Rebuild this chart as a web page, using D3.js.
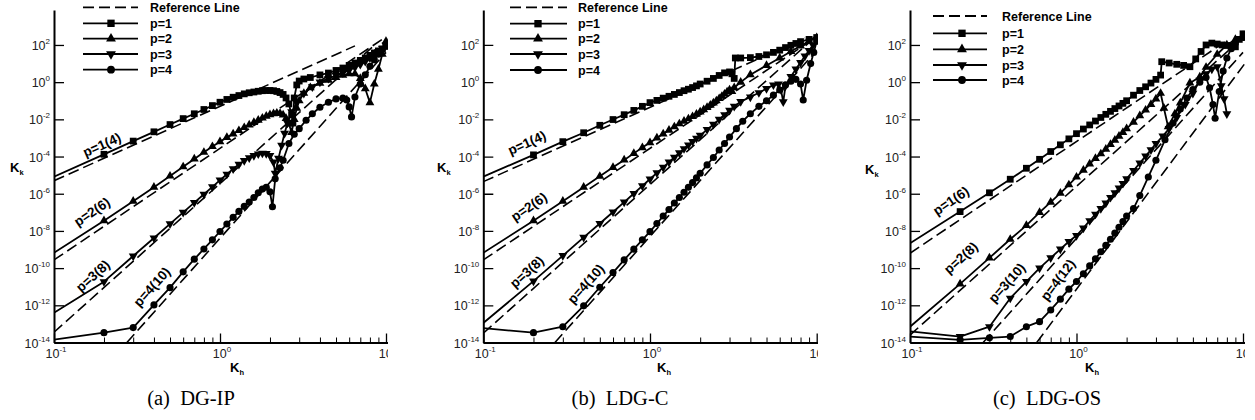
<!DOCTYPE html>
<html>
<head>
<meta charset="utf-8">
<script src="https://cdn.jsdelivr.net/npm/d3@7"></script>
<style>
  body { margin: 0; background: #fff; }
  svg { display: block; font-family: "Liberation Sans", Arial, sans-serif; }
</style>
</head>
<body>
<svg id="chart" width="1255" height="420"></svg>
<script>
// Values are [K_h, log10(K_k)]

// (a) DG-IP
const ipRef1 = [[0.1, -5.3], [6.5, 1.95]]
const ipRef2 = [[0.1, -9.56], [10, 2.44]]
const ipRef3 = [[0.1, -13.45], [8.5, 1.98]]
const ipRef4 = [[0.275, -14], [10, 1.6]]
const ipP1 = [[0.1,-5.08],[0.2,-3.88],[0.3,-3.17],[0.4,-2.67],[0.5,-2.28],[0.6,-1.96],[0.7,-1.7],[0.8,-1.47],[0.9,-1.26],[1.0,-1.08],[1.1,-0.93],[1.2,-0.81],[1.3,-0.72],[1.4,-0.63],[1.5,-0.57],[1.6,-0.53],[1.7,-0.49],[1.8,-0.46],[1.9,-0.45],[2.0,-0.45],[2.1,-0.46],[2.2,-0.5],[2.3,-0.56],[2.4,-0.66],[2.5,-0.85],[2.6,-1.17],[2.7,-1.76],[2.75,-2.2],[2.8,-0.85],[2.9,-0.15],[3.0,0.06],[3.2,0.17],[3.5,0.25],[4.0,0.39],[4.5,0.49],[5.0,0.63],[5.5,0.76],[6.0,0.9],[6.5,1.03],[7.0,1.17],[7.5,1.3],[8.0,1.44],[8.5,1.57],[9.0,1.68],[9.5,1.78],[10,1.92]]
const ipP2 = [[0.1,-9.18],[0.2,-7.45],[0.3,-6.4],[0.4,-5.65],[0.5,-5.05],[0.6,-4.55],[0.7,-4.13],[0.8,-3.77],[0.9,-3.46],[1.0,-3.2],[1.1,-2.97],[1.2,-2.78],[1.3,-2.6],[1.4,-2.44],[1.5,-2.3],[1.6,-2.16],[1.7,-2.04],[1.8,-1.93],[1.9,-1.83],[2.0,-1.75],[2.1,-1.69],[2.2,-1.66],[2.3,-1.68],[2.4,-1.76],[2.5,-1.95],[2.6,-2.25],[2.7,-2.7],[2.8,-2.0],[2.9,-1.4],[3.0,-1.0],[3.2,-0.6],[3.5,-0.3],[4.0,-0.05],[4.5,0.1],[5.0,0.25],[5.5,0.38],[6.0,0.45],[6.5,0.45],[7.0,0.2],[7.5,-0.35],[8.0,-1.1],[8.5,-0.1],[9.0,0.7],[9.5,1.5],[10,2.2]]
const ipP3 = [[0.1,-12.4],[0.2,-10.73],[0.3,-9.35],[0.4,-8.38],[0.5,-7.62],[0.6,-7.0],[0.7,-6.48],[0.8,-6.03],[0.9,-5.63],[1.0,-5.27],[1.1,-4.95],[1.2,-4.66],[1.3,-4.42],[1.4,-4.22],[1.5,-4.07],[1.6,-3.95],[1.7,-3.86],[1.8,-3.82],[1.9,-3.84],[2.0,-3.95],[2.1,-4.3],[2.15,-4.9],[2.25,-4.1],[2.35,-3.4],[2.45,-2.75],[2.55,-2.2],[2.7,-1.6],[2.9,-1.1],[3.2,-0.6],[3.6,-0.25],[4.0,0.0],[4.5,0.2],[5.0,0.35],[5.5,0.5],[6.0,0.65],[6.5,0.8],[7.0,0.95],[7.5,1.12],[8.0,1.3],[8.5,1.48],[9.0,1.65],[9.5,1.82],[10,2.0]]
const ipP4 = [[0.1,-13.85],[0.2,-13.47],[0.3,-13.2],[0.4,-11.98],[0.5,-11.05],[0.6,-10.2],[0.7,-9.52],[0.8,-8.97],[0.9,-8.48],[1.0,-8.03],[1.1,-7.63],[1.2,-7.27],[1.3,-6.95],[1.4,-6.68],[1.5,-6.45],[1.6,-6.2],[1.7,-5.95],[1.8,-5.75],[1.9,-5.65],[2.0,-5.9],[2.07,-6.7],[2.15,-5.2],[2.3,-4.6],[2.4,-4.2],[2.6,-3.3],[2.8,-2.8],[3.0,-2.5],[3.3,-2.05],[3.6,-1.7],[4.0,-1.35],[4.5,-1.08],[5.0,-0.9],[5.5,-0.86],[5.8,-0.96],[6.0,-1.33],[6.2,-1.87],[6.5,-0.8],[7.0,-0.1],[7.5,0.4],[8.0,0.85],[8.5,1.2],[9.0,1.5],[9.5,1.75],[10,2.0]]
const ipLabels = ["p=1(4)", "p=2(6)", "p=3(8)", "p=4(10)"]

// (b) LDG-C
const cRef1 = [[0.1, -5.35], [8.5, 2.37]]
const cRef2 = [[0.1, -9.56], [10, 2.44]]
const cRef3 = [[0.1, -13.5], [9, 2.13]]
const cRef4 = [[0.269, -14], [9.5, 1.48]]
const cP1 = [[0.1,-5.08],[0.2,-3.91],[0.3,-3.2],[0.4,-2.72],[0.5,-2.32],[0.6,-2.01],[0.7,-1.75],[0.8,-1.52],[0.9,-1.3],[1.0,-1.1],[1.1,-0.98],[1.2,-0.86],[1.3,-0.76],[1.4,-0.66],[1.5,-0.56],[1.6,-0.46],[1.7,-0.38],[1.8,-0.29],[1.9,-0.2],[2.0,-0.1],[2.2,0.05],[2.4,0.2],[2.6,0.36],[2.8,0.5],[3.0,0.55],[3.1,0.45],[3.2,0.2],[3.25,1.3],[3.5,1.3],[4.0,1.32],[4.5,1.38],[5.0,1.47],[5.5,1.6],[6.0,1.72],[6.5,1.86],[7.0,1.98],[7.5,2.08],[8.0,2.18],[9.0,2.3],[10,2.4]]
const cP2 = [[0.1,-9.18],[0.2,-7.45],[0.3,-6.4],[0.4,-5.65],[0.5,-5.06],[0.6,-4.58],[0.7,-4.18],[0.8,-3.83],[0.9,-3.52],[1.0,-3.25],[1.1,-3.0],[1.2,-2.78],[1.3,-2.58],[1.4,-2.4],[1.5,-2.24],[1.6,-2.1],[1.7,-1.97],[1.8,-1.85],[1.9,-1.72],[2.0,-1.6],[2.1,-1.48],[2.2,-1.36],[2.3,-1.24],[2.4,-1.12],[2.5,-1.0],[2.6,-0.88],[2.7,-0.76],[2.8,-0.64],[2.9,-0.52],[3.0,-0.42],[3.1,-0.5],[3.2,-0.3],[3.5,0.0],[4.0,0.4],[5.0,0.9],[6.0,1.3],[7.0,1.65],[8.0,1.95],[9.0,2.2],[10,2.4]]
const cP3 = [[0.1,-12.95],[0.2,-10.7],[0.3,-9.33],[0.4,-8.35],[0.5,-7.6],[0.6,-6.98],[0.7,-6.45],[0.8,-5.99],[0.9,-5.58],[1.0,-5.21],[1.1,-4.88],[1.2,-4.58],[1.3,-4.3],[1.4,-4.04],[1.5,-3.8],[1.6,-3.58],[1.7,-3.38],[1.8,-3.19],[1.9,-3.02],[2.0,-2.86],[2.2,-2.55],[2.4,-2.27],[2.6,-2.0],[2.8,-1.75],[3.0,-1.52],[3.2,-1.3],[3.5,-1.05],[4.0,-0.8],[4.5,-0.57],[5.0,-0.35],[5.5,-0.15],[5.9,-0.1],[6.1,-0.4],[6.3,-1.06],[6.5,-0.2],[7.0,0.3],[7.5,0.7],[8.0,1.05],[8.5,1.4],[9.0,1.7],[9.5,2.0],[10,2.3]]
const cP4 = [[0.1,-13.23],[0.2,-13.47],[0.3,-13.15],[0.4,-12.03],[0.5,-11.03],[0.6,-10.24],[0.7,-9.56],[0.8,-8.98],[0.9,-8.48],[1.0,-8.04],[1.1,-7.6],[1.2,-7.2],[1.3,-6.85],[1.4,-6.5],[1.5,-6.2],[1.6,-5.92],[1.7,-5.65],[1.8,-5.4],[1.9,-5.15],[2.0,-4.9],[2.2,-4.45],[2.4,-4.05],[2.6,-3.65],[2.8,-3.3],[3.0,-2.95],[3.3,-2.5],[3.6,-2.1],[4.0,-1.7],[4.5,-1.3],[5.0,-1.0],[5.5,-0.7],[6.0,-0.42],[6.5,-0.15],[7.0,0.05],[7.5,0.15],[8.0,-0.1],[8.3,-0.96],[8.7,0.1],[9.2,1.0],[9.6,1.6],[10,2.2]]
const cLabels = ["p=1(4)", "p=2(6)", "p=3(8)", "p=4(10)"]

// (c) LDG-OS
const oRef1 = [[0.1, -9.2], [7.9, 2.2]]
const oRef2 = [[0.1, -13.6], [10, 2.4]]
const oRef3 = [[0.275, -14], [10, 1.6]]
const oRef4 = [[0.577, -14], [12, 1.82]]
const oP1 = [[0.1,-8.66],[0.2,-6.96],[0.3,-5.95],[0.4,-5.22],[0.5,-4.63],[0.6,-4.15],[0.7,-3.73],[0.8,-3.37],[0.9,-3.05],[1.0,-2.77],[1.1,-2.52],[1.2,-2.3],[1.3,-2.09],[1.4,-1.9],[1.5,-1.73],[1.6,-1.57],[1.7,-1.42],[1.8,-1.28],[1.9,-1.14],[2.0,-1.0],[2.2,-0.7],[2.4,-0.45],[2.6,-0.25],[2.8,-0.05],[3.0,0.15],[3.2,0.38],[3.25,1.1],[3.6,1.03],[4.0,0.96],[4.4,0.9],[4.8,0.83],[5.2,1.25],[5.6,1.65],[6.0,2.0],[6.5,2.1],[7.0,2.05],[7.5,2.0],[8.0,1.97],[8.5,1.93],[9.0,1.9],[9.5,2.3],[10,2.6]]
const oP2 = [[0.1,-13.15],[0.2,-10.85],[0.3,-9.45],[0.4,-8.45],[0.5,-7.7],[0.6,-7.0],[0.7,-6.45],[0.8,-5.97],[0.9,-5.52],[1.0,-5.1],[1.1,-4.73],[1.2,-4.4],[1.3,-4.1],[1.4,-3.85],[1.5,-3.6],[1.6,-3.35],[1.7,-3.12],[1.8,-2.9],[1.9,-2.7],[2.0,-2.5],[2.2,-2.15],[2.4,-1.8],[2.6,-1.5],[2.8,-1.2],[3.0,-0.9],[3.2,-0.6],[3.35,-1.4],[3.55,-2.4],[3.9,-1.7],[4.2,-1.12],[4.8,-0.04],[5.5,0.28],[6.0,0.8],[7.0,1.5],[8.0,2.0],[9.0,2.3],[10,2.5]]
const oP3 = [[0.1,-13.4],[0.2,-13.68],[0.3,-13.15],[0.4,-11.62],[0.5,-10.72],[0.6,-10.0],[0.7,-9.45],[0.8,-8.98],[0.9,-8.57],[1.0,-8.25],[1.1,-7.85],[1.2,-7.45],[1.3,-7.1],[1.4,-6.8],[1.5,-6.5],[1.6,-6.2],[1.7,-5.95],[1.8,-5.7],[1.9,-5.45],[2.0,-5.2],[2.2,-4.75],[2.4,-4.35],[2.6,-3.98],[2.8,-3.64],[3.0,-3.3],[3.3,-2.9],[3.6,-2.5],[4.0,-1.9],[4.5,-1.2],[5.0,-0.6],[5.5,0.1],[6.0,0.45],[6.5,0.7],[7.0,0.82],[7.4,-0.2],[7.7,-0.9],[8.0,-1.7]]
const oP4 = [[0.1,-13.68],[0.2,-13.86],[0.3,-13.75],[0.4,-13.68],[0.5,-13.15],[0.6,-12.88],[0.7,-12.25],[0.8,-11.67],[0.9,-11.13],[1.0,-10.72],[1.1,-10.3],[1.2,-9.88],[1.3,-9.5],[1.4,-9.12],[1.5,-8.78],[1.6,-8.45],[1.7,-8.12],[1.8,-7.8],[1.9,-7.5],[2.0,-7.2],[2.2,-6.8],[2.4,-6.1],[2.7,-5.1],[3.0,-4.2],[3.4,-3.1],[3.8,-2.2],[4.2,-1.45],[4.6,-0.85],[5.0,-0.4],[5.5,0.0],[6.0,0.25],[6.3,-0.3],[6.6,-1.2],[6.8,-1.94],[7.2,-0.5],[7.6,0.6],[8.0,1.3],[8.5,1.8],[9.0,2.1],[10,2.4]]
const oLabels = ["p=1(6)", "p=2(8)", "p=3(10)", "p=4(12)"]

const legendNames = ["Reference Line", "p=1", "p=2", "p=3", "p=4"]
const yTickExp = [-14, -12, -10, -8, -6, -4, -2, 0, 2]
const xTickExp = [-1, 0, 1]
const xMinorTicks = [0.2, 0.3, 0.4, 0.5, 0.6, 0.7, 0.8, 0.9, 2, 3, 4, 5, 6, 7, 8, 9]

const MARKERS = [
  { type: d3.symbolSquare, size: 46, rot: 0 },
  { type: d3.symbolTriangle, size: 34, rot: 0 },
  { type: d3.symbolTriangle, size: 34, rot: 180 },
  { type: d3.symbolCircle, size: 40, rot: 0 }
]

const panels = [
  {
    id: "a", x0: 54, dec: 166, clipR: 388, caption: "(a)\u2002DG-IP", capX: 191,
    refs: [ipRef1, ipRef2, ipRef3, ipRef4], series: [ipP1, ipP2, ipP3, ipP4], labels: ipLabels,
    labelPos: [[102, 145, -24], [92, 212, -34], [93, 276, -42], [152, 287, -48]],
    legend: { x1: 83, x2: 138, mx: 111, tx: 150, rows: [7.3, 23.3, 38.7, 54, 69.7] },
    kk: [10, 172], kh: [230, 372]
  },
  {
    id: "b", x0: 483.3, dec: 166.7, clipR: 818, caption: "(b)\u2002LDG-C", capX: 620,
    refs: [cRef1, cRef2, cRef3, cRef4], series: [cP1, cP2, cP3, cP4], labels: cLabels,
    labelPos: [[527, 143, -24], [529, 207, -34], [527, 272, -42], [586, 284, -48]],
    legend: { x1: 510, x2: 567, mx: 538, tx: 578, rows: [7.3, 23.7, 38.7, 54, 70] },
    kk: [437, 172], kh: [657, 372]
  },
  {
    id: "c", x0: 910, dec: 166.5, clipR: 1245, caption: "(c)\u2002LDG-OS", capX: 1047,
    refs: [oRef1, oRef2, oRef3, oRef4], series: [oP1, oP2, oP3, oP4], labels: oLabels,
    labelPos: [[951, 201, -34], [961, 258, -42], [1007, 283, -48], [1058, 280, -53]],
    legend: { x1: 933, x2: 987, mx: 962, tx: 1002, rows: [16, 33.3, 49.3, 65, 80] },
    kk: [865, 174], kh: [1085, 372]
  }
]

const svg = d3.select("#chart")
const defs = svg.append("defs")

panels.forEach(p => drawPanel(p))

function drawPanel(p) {
  const x = d3.scaleLog()
    .domain([0.1, 5 * Math.PI])
    .range([p.x0, p.x0 + p.dec * Math.log10(50 * Math.PI)])
  const y = d3.scaleLog()
    .domain([1e-14, Math.pow(10, 3.88)])
    .range([342.5, 10])

  // panel crop (the figure is cut on the right)
  defs.append("clipPath").attr("id", `crop-${p.id}`)
    .append("rect")
    .attr("x", p.x0 - 60).attr("y", 0)
    .attr("width", p.clipR - p.x0 + 60).attr("height", 385)
  defs.append("clipPath").attr("id", `plot-${p.id}`)
    .append("rect")
    .attr("x", p.x0).attr("y", 0)
    .attr("width", p.clipR - p.x0).attr("height", y(1e-14) + 1)

  const g = svg.append("g").attr("clip-path", `url(#crop-${p.id})`)
  const plot = g.append("g").attr("clip-path", `url(#plot-${p.id})`)

  const line = d3.line()
    .x(d => x(d[0]))
    .y(d => y(Math.pow(10, d[1])))

  // Reference lines
  plot.append("g")
    .selectAll("path")
    .data(p.refs)
    .join("path")
    .attr("d", line)
    .attr("fill", "none")
    .attr("stroke", "#000")
    .attr("stroke-width", 1.6)
    .attr("stroke-dasharray", "11,5")

  // Curves
  p.series.forEach((s, i) => {
    plot.append("path")
      .datum(s)
      .attr("d", line)
      .attr("fill", "none")
      .attr("stroke", "#000")
      .attr("stroke-width", 1.8)
      .attr("stroke-linejoin", "round")

    const m = MARKERS[i]
    plot.append("g")
      .selectAll("path")
      .data(s.slice(1))
      .join("path")
      .attr("d", d3.symbol().type(m.type).size(m.size))
      .attr("transform", d => `translate(${x(d[0])},${y(Math.pow(10, d[1]))}) rotate(${m.rot})`)
      .attr("fill", "#000")
  })

  // Y axis
  const yAxis = g.append("g")
    .attr("transform", `translate(${p.x0},0)`)
    .call(d3.axisLeft(y)
      .tickValues(yTickExp.map(e => Math.pow(10, e)))
      .tickSize(-10)
      .tickSizeOuter(0)
      .tickFormat(""))
  yAxis.select(".domain").attr("stroke-width", 2)
  yAxis.selectAll(".tick line").attr("stroke-width", 1.3)

  yTickExp.forEach(e => {
    const t = g.append("text")
      .attr("x", p.x0 - 4)
      .attr("y", y(Math.pow(10, e)) + 5)
      .attr("text-anchor", "end")
      .attr("font-size", 12.5)
      .attr("fill", "#222")
    t.append("tspan").text("10")
    t.append("tspan").attr("font-size", 8).attr("dy", -6).text(e)
  })

  // X axis
  const xAxis = g.append("g")
    .attr("transform", `translate(0,${y(1e-14)})`)
    .call(d3.axisBottom(x)
      .tickValues(xTickExp.map(e => Math.pow(10, e)))
      .tickSize(-9)
      .tickSizeOuter(0)
      .tickFormat(""))
  xAxis.select(".domain").attr("stroke-width", 2)
  xAxis.selectAll(".tick line").attr("stroke-width", 1.3)

  const xMinor = g.append("g")
    .attr("transform", `translate(0,${y(1e-14)})`)
    .call(d3.axisBottom(x)
      .tickValues(xMinorTicks)
      .tickSize(-5)
      .tickSizeOuter(0)
      .tickFormat(""))
  xMinor.select(".domain").remove()
  xMinor.selectAll(".tick line").attr("stroke-width", 1)

  xTickExp.forEach(e => {
    const t = g.append("text")
      .attr("x", x(Math.pow(10, e)) + 2)
      .attr("y", y(1e-14) + 15.5)
      .attr("text-anchor", "middle")
      .attr("font-size", 12.5)
      .attr("fill", "#222")
    t.append("tspan").text("10")
    t.append("tspan").attr("font-size", 8).attr("dy", -6).text(e)
  })

  // Axis titles
  const kk = g.append("text")
    .attr("x", p.kk[0]).attr("y", p.kk[1])
    .attr("font-size", 13).attr("font-weight", "bold")
  kk.append("tspan").text("K")
  kk.append("tspan").attr("font-size", 7.5).attr("dy", 3).text("k")

  const kh = g.append("text")
    .attr("x", p.kh[0]).attr("y", p.kh[1])
    .attr("font-size", 13).attr("font-weight", "bold")
  kh.append("tspan").text("K")
  kh.append("tspan").attr("font-size", 7.5).attr("dy", 3).text("h")

  // Slope labels along the lines
  p.labels.forEach((txt, i) => {
    const [cx, cy, ang] = p.labelPos[i]
    g.append("text")
      .attr("transform", `translate(${cx},${cy}) rotate(${ang})`)
      .attr("text-anchor", "middle")
      .attr("dominant-baseline", "central")
      .attr("font-size", 13.5)
      .attr("font-weight", "bold")
      .text(txt)
  })

  // Legend
  const lg = g.append("g")
  legendNames.forEach((name, i) => {
    const ly = p.legend.rows[i]
    lg.append("line")
      .attr("x1", p.legend.x1).attr("x2", p.legend.x2)
      .attr("y1", ly).attr("y2", ly)
      .attr("stroke", "#000")
      .attr("stroke-width", 1.8)
      .attr("stroke-dasharray", i === 0 ? "11,5" : null)
    if (i > 0) {
      const m = MARKERS[i - 1]
      lg.append("path")
        .attr("d", d3.symbol().type(m.type).size(m.size + 8))
        .attr("transform", `translate(${p.legend.mx},${ly}) rotate(${m.rot})`)
        .attr("fill", "#000")
    }
    lg.append("text")
      .attr("x", p.legend.tx).attr("y", ly + 4.6)
      .attr("font-size", 12.5)
      .attr("font-weight", "bold")
      .text(name)
  })

  // Caption
  svg.append("text")
    .attr("x", p.capX).attr("y", 405)
    .attr("text-anchor", "middle")
    .attr("font-family", "'Liberation Serif', 'Times New Roman', serif")
    .attr("font-size", 20.5)
    .text(p.caption)
}
</script>
</body>
</html>
